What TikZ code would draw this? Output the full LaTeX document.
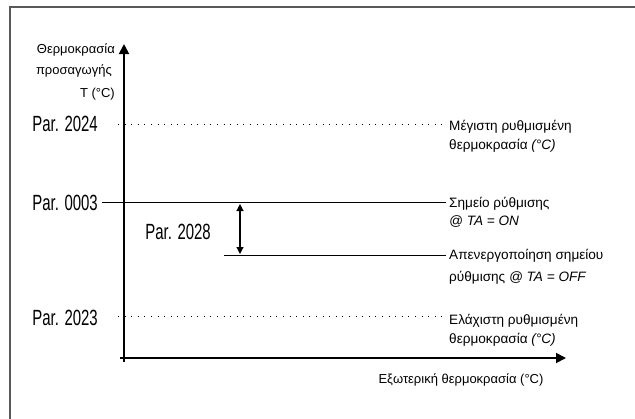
\documentclass[tikz,border=0pt]{standalone}
\usepackage{fontspec}
\setmainfont{Liberation Sans}
\newfontfamily\condfont{Liberation Sans}[FakeStretch=0.68]
\usetikzlibrary{positioning,arrows.meta}

\begin{document}
\begin{tikzpicture}[x=1pt,y=-1pt,>={Triangle[length=10pt,width=10pt]},
  txt/.style={font=\fontsize{13}{15}\selectfont,inner sep=0pt,anchor=base west},
  note/.style={txt,font=\fontsize{13.6}{15}\selectfont},
  par/.style={font=\condfont\fontsize{22}{24}\selectfont,inner sep=0pt,anchor=base east},
  ax/.style={line width=1.8pt},
  lvl/.style={line width=0.9pt},
  dot/.style={line width=0.9pt,dash pattern=on 0.9pt off 5.7pt},
  hyst/.style={line width=1.2pt,{Triangle[length=7pt,width=7pt]}-{Triangle[length=7pt,width=7pt]}}]
\useasboundingbox (0,0) rectangle (635,418);
\draw[line width=1.4pt,gray!70!black] (10,425) -- (10,7) -- (640,7);

% axes
\coordinate (O) at (124,358);
\coordinate (ytop) at (124,44);
\coordinate (xend) at (566,358);
\draw[ax,->] ([yshift=-4pt]O) -- (ytop);
\draw[ax,->] ([xshift=-4pt]O) -- (xend);
\node[txt,anchor=base east] (yl1) at (115,53) {Θερμοκρασία};
\node[txt,anchor=base east] (yl2) at (112,74) {προσαγωγής};
\node[txt,anchor=base east] (yl3) at (115,97) {T (°C)};
\node[txt,anchor=base] (xl) at (461,383) {Εξωτερική θερμοκρασία (°C)};

% parameters
\node[par] (p24) at (98,131) {Par. 2024};
\node[par] (p03) at (98,210) {Par. 0003};
\node[par] (p28) at (211,239) {Par. 2028};
\node[par] (p23) at (98,325) {Par. 2023};

% right-hand labels
\node[note] (maxA) at (449,130) {Μέγιστη ρυθμισμένη};
\node[note] (maxB) at (449,149) {θερμοκρασία \textit{(°C)}};
\node[note] (onA) at (449,207) {Σημείο ρύθμισης};
\node[note] (onB) at (449,225) {\itshape @ TA = ON};
\node[note] (offA) at (449,259) {Απενεργοποίηση σημείου};
\node[note] (offB) at (449,281) {ρύθμισης \textit{@ TA = OFF}};
\node[note] (minA) at (449,324) {Ελάχιστη ρυθμισμένη};
\node[note] (minB) at (449,343) {θερμοκρασία \textit{(°C)}};

% levels
\coordinate (d24) at (118,124);
\coordinate (d23) at (118,316);
\coordinate (off) at (224,255);
\draw[dot] (d24) -- ([xshift=-3pt]d24 -| maxA.west);
\draw[dot] (d23) -- ([xshift=-3pt]d23 -| minA.west);
\draw[lvl] ([xshift=4pt]p03.east) -- ([xshift=-3pt]p03.east -| onA.west);
\draw[lvl] (off) -- ([xshift=-3pt]off -| offA.west);

% hysteresis
\coordinate (hT) at (240,204);
\coordinate (hB) at (240,254);
\draw[hyst] (hT) -- (hB);
\end{tikzpicture}
\end{document}
